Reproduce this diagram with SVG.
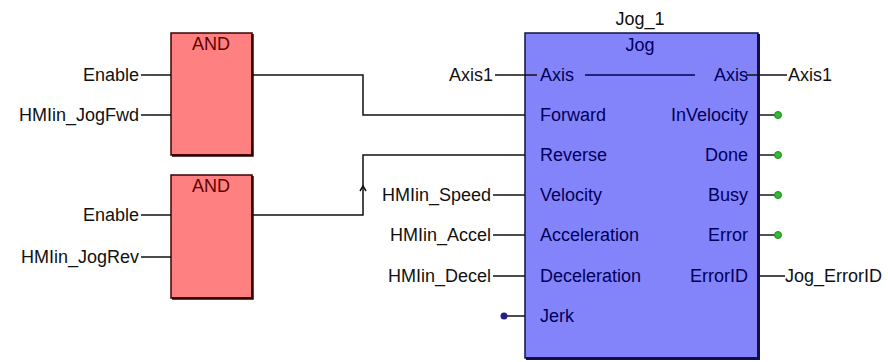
<svg xmlns="http://www.w3.org/2000/svg" width="888" height="362" viewBox="0 0 888 362">
<style>
text{font-family:"Liberation Sans",Arial,sans-serif;font-size:18px}
.lbl{fill:#111}
.and{fill:#ff8080;stroke:#400000;stroke-width:1.5}
.andshadow{stroke:#300000;stroke-width:2.5;fill:none}
.andt{fill:#600000;text-anchor:middle}
.fb{fill:#8484fa;stroke:#10104a;stroke-width:1.5}
.fbshadow{stroke:#10104a;stroke-width:3;fill:none}
.pin{fill:#000058}
.r{text-anchor:end}
.w{stroke:#111;stroke-width:1.5;fill:none}
.ow{stroke:#1a1a1a;stroke-width:1.5;fill:none}
.bo{fill:#33bb33;stroke:#228822;stroke-width:1}
</style>
<rect width="888" height="362" fill="#ffffff"/>
<g id="and1">
<rect class="and" x="171" y="33" width="81" height="122"/>
<path class="andshadow" d="M252.5,34 V155.5 H172"/>
<text class="andt" x="211" y="50">AND</text>
</g>
<g id="and2">
<rect class="and" x="171" y="175" width="81" height="123"/>
<path class="andshadow" d="M252.5,176 V298.5 H172"/>
<text class="andt" x="211" y="192">AND</text>
</g>
<g id="jog">
<text class="lbl" x="640" y="25" text-anchor="middle">Jog_1</text>
<rect class="fb" x="525" y="33" width="233" height="325"/>
<path class="fbshadow" d="M758.5,34 V358.5 H526"/>
<text class="pin" x="640" y="51" text-anchor="middle">Jog</text>
<text class="pin" x="540" y="81">Axis</text>
<text class="pin" x="540" y="121">Forward</text>
<text class="pin" x="540" y="161">Reverse</text>
<text class="pin" x="540" y="201">Velocity</text>
<text class="pin" x="540" y="241">Acceleration</text>
<text class="pin" x="540" y="282">Deceleration</text>
<text class="pin" x="540" y="322">Jerk</text>
<text class="pin r" x="748" y="81">Axis</text>
<text class="pin r" x="748" y="121">InVelocity</text>
<text class="pin r" x="748" y="161">Done</text>
<text class="pin r" x="748" y="201">Busy</text>
<text class="pin r" x="748" y="241">Error</text>
<text class="pin r" x="748" y="282">ErrorID</text>
<line x1="585" y1="75" x2="695" y2="75" stroke="#000058" stroke-width="1.5"/>
</g>
<g id="labels">
<text class="lbl r" x="139" y="81">Enable</text>
<text class="lbl r" x="139" y="121">HMIin_JogFwd</text>
<text class="lbl r" x="139" y="221">Enable</text>
<text class="lbl r" x="139" y="263">HMIin_JogRev</text>
<text class="lbl r" x="493" y="81">Axis1</text>
<text class="lbl r" x="491" y="201">HMIin_Speed</text>
<text class="lbl r" x="491" y="241">HMIin_Accel</text>
<text class="lbl r" x="491" y="282">HMIin_Decel</text>
<text class="lbl" x="788" y="81">Axis1</text>
<text class="lbl" x="785" y="282">Jog_ErrorID</text>
</g>
<g id="connectors">
<line class="w" x1="141" y1="75" x2="171" y2="75"/>
<line class="w" x1="141" y1="115" x2="171" y2="115"/>
<line class="w" x1="141" y1="215" x2="171" y2="215"/>
<line class="w" x1="141" y1="257" x2="171" y2="257"/>
<path class="w" d="M253,75 H363 V115 H525"/>
<path class="w" d="M253,215 H363 V155 H525"/>
<path class="w" d="M360,191 L363,186 L366,191"/>
<line class="w" x1="495" y1="75" x2="537" y2="75"/>
<line class="w" x1="493" y1="195" x2="525" y2="195"/>
<line class="w" x1="493" y1="235" x2="525" y2="235"/>
<line class="w" x1="493" y1="276" x2="525" y2="276"/>
<line class="w" x1="504" y1="316" x2="525" y2="316"/>
<circle cx="504" cy="316" r="3.5" fill="#20208a"/>
<line class="w" x1="746" y1="75" x2="787" y2="75"/>
<line class="ow" x1="759" y1="115" x2="775" y2="115"/>
<circle class="bo" cx="778" cy="115" r="3.5"/>
<line class="ow" x1="759" y1="155" x2="775" y2="155"/>
<circle class="bo" cx="778" cy="155" r="3.5"/>
<line class="ow" x1="759" y1="195" x2="775" y2="195"/>
<circle class="bo" cx="778" cy="195" r="3.5"/>
<line class="ow" x1="759" y1="235" x2="775" y2="235"/>
<circle class="bo" cx="778" cy="235" r="3.5"/>
<line class="w" x1="759" y1="276" x2="785" y2="276"/>
</g>
</svg>
